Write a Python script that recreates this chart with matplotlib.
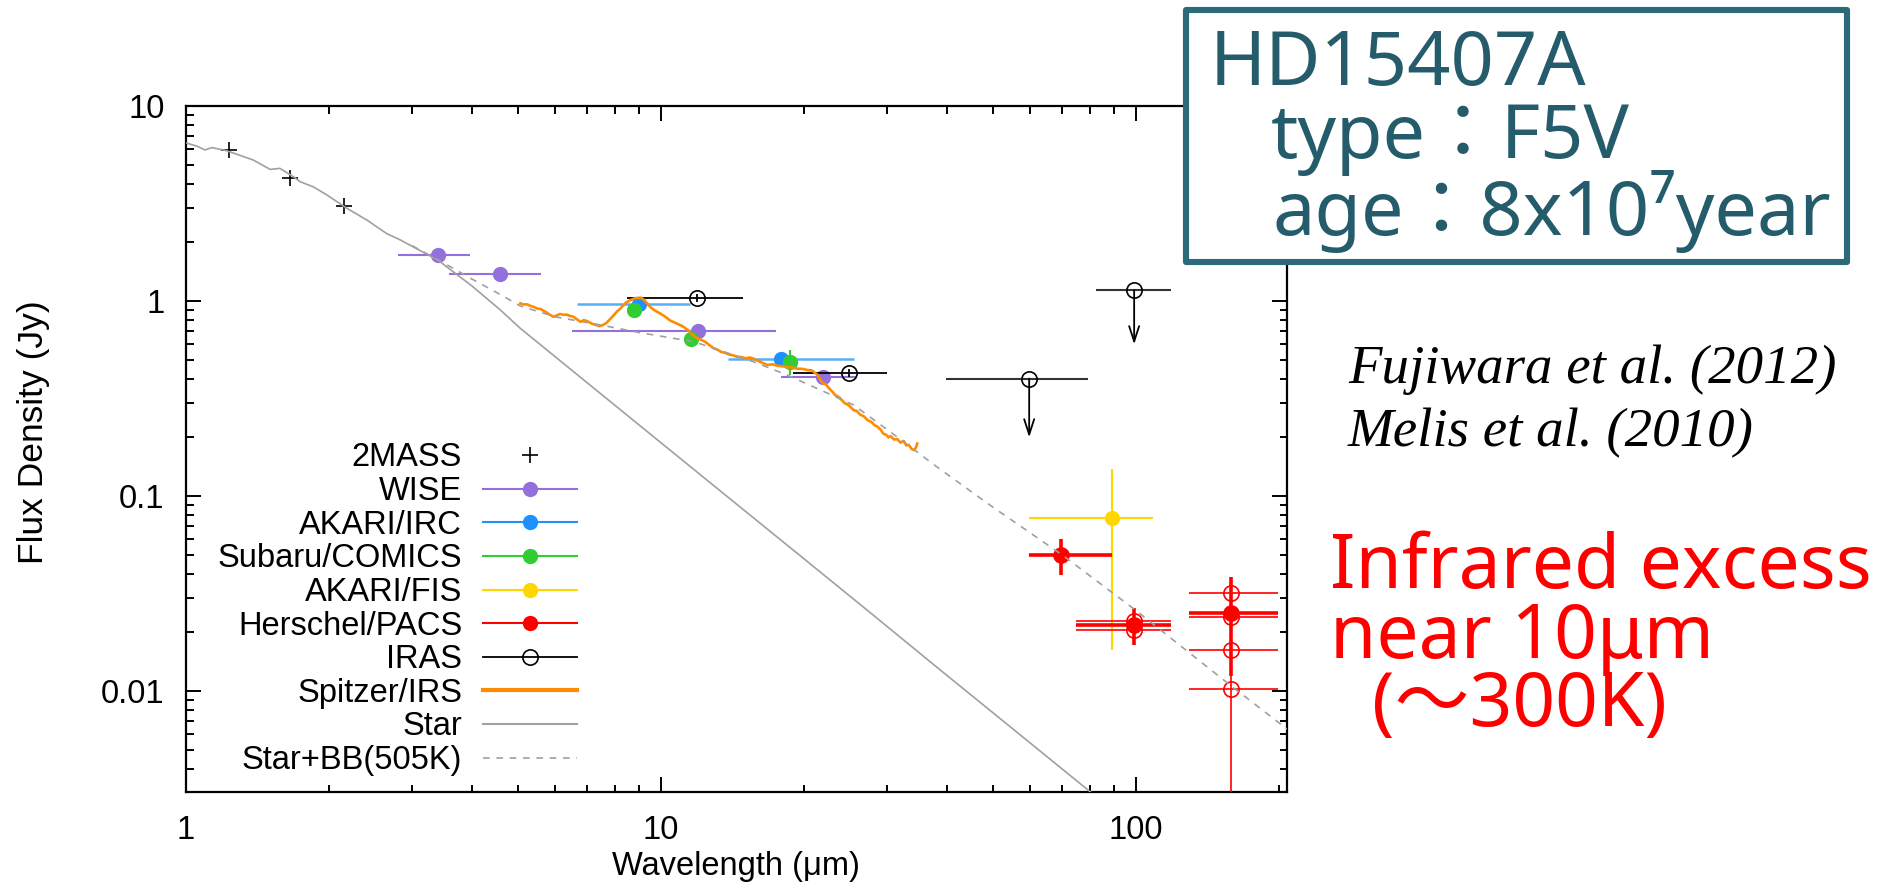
import numpy as np
import matplotlib
matplotlib.use('Agg')
import matplotlib.pyplot as plt
from matplotlib.lines import Line2D
from matplotlib.patches import Rectangle
from matplotlib.ticker import FixedLocator, FixedFormatter, LogLocator, NullFormatter

# ---------------- data ----------------
twomass_lam = [1.235, 1.662, 2.159]
twomass_flux = [5.95, 4.29, 3.07]

wise_lam = [3.4, 4.6, 12.0, 22.0]
wise_flux = [1.73, 1.37, 0.70, 0.407]
wise_lo = [2.80, 3.59, 6.5, 17.9]
wise_hi = [3.98, 5.59, 17.5, 25.9]

irc_lam = [9.0, 17.9]
irc_flux = [0.965, 0.503]
irc_lo = [6.67, 13.9]
irc_hi = [11.55, 25.5]

comics_lam = [8.78, 11.6, 18.7]
comics_flux = [0.90, 0.64, 0.488]
comics_yerr = [0.04, 0.04, 0.07]

fis_lam = [89.4]
fis_flux = [0.0773]
fis_lo = [59.7]
fis_hi = [109.0]
fis_ylo = [0.0163]
fis_yhi = [0.137]

pacs_lam = [69.7, 99.3, 158.9]
pacs_flux = [0.050, 0.0219, 0.0252]
pacs_lo = [59.7, 74.8, 129.7]
pacs_hi = [89.4, 119.0, 199.8]
pacs_ylo = [0.0395, 0.0172, 0.0119]
pacs_yhi = [0.0601, 0.0267, 0.0387]

pacs_open_lam = [99.3, 99.3, 158.9, 158.9, 158.9, 158.9]
pacs_open_flux = [0.0230, 0.0207, 0.0318, 0.0240, 0.0163, 0.0102]
pacs_open_lo = [74.8, 74.8, 129.7, 129.7, 129.7, 129.7]
pacs_open_hi = [119.0, 119.0, 199.8, 199.8, 199.8, 199.8]
pacs_open_ylo = [0.0215, 0.0195, 0.0280, 0.0200, 0.0130, 0.0005]
pacs_open_yhi = [0.0245, 0.0220, 0.0360, 0.0290, 0.0200, 0.0200]

iras_lam = [11.96, 24.9]
iras_flux = [1.04, 0.429]
iras_lo = [8.5, 19.0]
iras_hi = [14.9, 29.9]
iras_yerr = [0.05, 0.02]

iras_ul_lam = [59.7, 99.3]
iras_ul_flux = [0.40, 1.14]
iras_ul_lo = [39.8, 82.6]
iras_ul_hi = [79.5, 119.0]
iras_ul_tip = [0.20, 0.60]

irs_lam = [5.07, 5.15, 5.24, 5.32, 5.4, 5.5, 5.59, 5.68, 5.75, 5.85, 5.95, 6.05, 6.15,
           6.25, 6.35, 6.45, 6.55, 6.65, 6.78, 6.9, 7.0, 7.1, 7.2, 7.3, 7.43, 7.55, 7.7,
           7.8, 7.95, 8.1, 8.24, 8.45, 8.63, 8.85, 9.09, 9.2, 9.35, 9.5, 9.66, 9.8, 10.0,
           10.2, 10.5, 10.7, 11.0, 11.2, 11.5, 11.7, 11.95, 12.2, 12.45, 12.7, 12.95, 13.2,
           13.4, 13.7, 13.9, 14.2, 14.5, 14.8, 15.1, 15.4, 15.7, 15.95, 16.2, 16.5, 16.8,
           17.2, 17.6, 18.0, 18.5, 19.0, 19.4, 19.9, 20.4, 20.8, 21.0, 21.4, 21.7, 22.0,
           22.3, 22.6, 22.9, 23.3, 23.8, 24.4, 24.9, 25.5, 25.9, 26.3, 26.8, 27.3, 27.8,
           28.2, 28.6, 29.1, 29.5, 29.8, 30.2, 30.5, 31.0, 31.5, 32.0, 32.5, 32.9, 33.3,
           33.8, 34.2, 34.5, 34.7]
irs_flux = [0.973, 0.96, 0.962, 0.945, 0.935, 0.915, 0.91, 0.89, 0.875, 0.85, 0.83, 0.845,
            0.858, 0.85, 0.852, 0.838, 0.832, 0.81, 0.783, 0.798, 0.79, 0.775, 0.762, 0.755,
            0.744, 0.752, 0.774, 0.80, 0.84, 0.885, 0.917, 0.98, 1.01, 1.035, 1.04, 1.02,
            0.98, 0.935, 0.905, 0.885, 0.862, 0.835, 0.792, 0.777, 0.753, 0.735, 0.70, 0.668,
            0.643, 0.632, 0.615, 0.592, 0.572, 0.562, 0.549, 0.542, 0.533, 0.527, 0.518,
            0.516, 0.508, 0.514, 0.506, 0.497, 0.488, 0.479, 0.47, 0.474, 0.466, 0.464,
            0.458, 0.456, 0.45, 0.449, 0.443, 0.441, 0.434, 0.418, 0.395, 0.378, 0.374,
            0.358, 0.347, 0.33, 0.32, 0.30, 0.292, 0.276, 0.273, 0.262, 0.256, 0.245, 0.24,
            0.231, 0.227, 0.218, 0.208, 0.207, 0.2, 0.203, 0.195, 0.196, 0.188, 0.192, 0.182,
            0.183, 0.174, 0.172, 0.178, 0.186]

star_lam = [1.0, 1.056, 1.099, 1.136, 1.221, 1.39, 1.507, 1.58, 1.687, 1.743, 1.858,
            1.984, 2.186, 2.41, 2.65, 2.83, 3.4, 4.0, 4.6, 5.07, 7.0, 10.0, 14.0,
            20.0, 28.0, 38.9, 55.0, 80.5, 100.0]
star_flux = [6.48, 6.23, 5.95, 6.12, 5.9, 5.28, 4.73, 4.79, 4.34, 4.09, 3.85,
             3.5, 2.99, 2.6, 2.22, 2.06, 1.62, 1.2, 0.9, 0.724, 0.382, 0.1885, 0.0969,
             0.0479, 0.0246, 0.01277, 0.00644, 0.00303, 0.00196]

bb_lam = [3.0, 3.4, 4.0, 4.6, 5.07, 6.0, 7.5, 9.0, 11.78, 15.7, 18.5, 21.7, 25.5,
          30.1, 38.2, 50.0, 70.0, 100.0, 160.0, 210.0]
bb_flux = [1.92, 1.63, 1.3, 1.08, 0.943, 0.83, 0.753, 0.69, 0.618, 0.488, 0.417, 0.35,
           0.293, 0.218, 0.141, 0.088, 0.050, 0.026, 0.0105, 0.0063]

legend_labels = ['2MASS', 'WISE', 'AKARI/IRC', 'Subaru/COMICS', 'AKARI/FIS',
                 'Herschel/PACS', 'IRAS', 'Spitzer/IRS', 'Star', 'Star+BB(505K)']

# ---------------- style ----------------
plt.rcParams['font.family'] = ['Liberation Sans', 'DejaVu Sans']
C_WISE = '#9370DB'
C_IRC = '#1E90FF'
C_IRC_E = '#5AAEF8'
C_COM = '#32CD32'
C_FIS = '#FFD700'
C_PACS = '#FF0000'
C_IRS = '#FF8C00'
C_STAR = '#A0A0A0'
TEAL_T = '#245C6B'
TEAL_B = '#2B6A79'

W, H = 1879, 894
fig = plt.figure(figsize=(W / 100, H / 100), dpi=100)
fig.patch.set_facecolor('white')
ax = fig.add_axes([185.5 / W, 1 - 792.3 / H, 1101.2 / W, 686.3 / H])
ax.set_xscale('log')
ax.set_yscale('log')


def xe(lam, lo, hi):
    lam = np.asarray(lam)
    return [lam - np.asarray(lo), np.asarray(hi) - lam]


MS = 11
# 2MASS
ax.plot(twomass_lam, twomass_flux, ls='none', marker='+', ms=11, mew=1.2, color='k', zorder=3)
# WISE
ax.errorbar(wise_lam, wise_flux, xerr=xe(wise_lam, wise_lo, wise_hi), fmt='o', ms=MS,
            color=C_WISE, ecolor=C_WISE, elinewidth=1.5, capsize=0, mew=0, zorder=3)
# AKARI/IRC
ax.errorbar(irc_lam, irc_flux, xerr=xe(irc_lam, irc_lo, irc_hi), fmt='o', ms=MS,
            color=C_IRC, ecolor=C_IRC_E, elinewidth=1.8, capsize=0, mew=0, zorder=3.1)
# Subaru/COMICS
ax.errorbar(comics_lam, comics_flux, yerr=comics_yerr, fmt='o', ms=MS,
            color=C_COM, ecolor=C_COM, elinewidth=1.5, capsize=0, mew=0, zorder=3.2)
# AKARI/FIS
ax.errorbar(fis_lam, fis_flux, xerr=xe(fis_lam, fis_lo, fis_hi),
            yerr=[np.array(fis_flux) - np.array(fis_ylo), np.array(fis_yhi) - np.array(fis_flux)],
            fmt='o', ms=MS, color=C_FIS, ecolor=C_FIS, elinewidth=1.5, capsize=0, mew=0, zorder=3.3)
# Herschel/PACS filled
ax.errorbar(pacs_lam, pacs_flux, xerr=xe(pacs_lam, pacs_lo, pacs_hi),
            yerr=[np.array(pacs_flux) - np.array(pacs_ylo), np.array(pacs_yhi) - np.array(pacs_flux)],
            fmt='o', ms=MS + 1, color=C_PACS, ecolor=C_PACS, elinewidth=2.6, capsize=0, mew=0, zorder=3.4)
# Herschel/PACS open
ax.errorbar(pacs_open_lam, pacs_open_flux, xerr=xe(pacs_open_lam, pacs_open_lo, pacs_open_hi),
            yerr=[np.array(pacs_open_flux) - np.array(pacs_open_ylo),
                  np.array(pacs_open_yhi) - np.array(pacs_open_flux)],
            fmt='o', ms=MS, mfc='none', mec=C_PACS, mew=1.2, ecolor=C_PACS,
            elinewidth=1.2, capsize=0, zorder=3.4)
# IRAS detections
ax.errorbar(iras_lam, iras_flux, xerr=xe(iras_lam, iras_lo, iras_hi), yerr=iras_yerr,
            fmt='o', ms=MS, mfc='none', mec='k', mew=1.2, ecolor='k',
            elinewidth=1.3, capsize=0, zorder=3.5)
# IRAS upper limits
ax.errorbar(iras_ul_lam, iras_ul_flux, xerr=xe(iras_ul_lam, iras_ul_lo, iras_ul_hi),
            fmt='o', ms=MS, mfc='none', mec='k', mew=1.2, ecolor='#333333',
            elinewidth=1.5, capsize=0, zorder=3.5)
for lam, f, tip in zip(iras_ul_lam, iras_ul_flux, iras_ul_tip):
    ax.annotate('', xy=(lam, tip), xytext=(lam, f),
                arrowprops=dict(arrowstyle='->,head_length=0.55,head_width=0.18',
                                color='k', lw=1.3, shrinkA=0, shrinkB=0,
                                mutation_scale=20), zorder=3.5)
# Spitzer/IRS
ax.plot(irs_lam, irs_flux, color=C_IRS, lw=1.9, zorder=4)
# Star
ax.plot(star_lam, star_flux, color=C_STAR, lw=1.2, zorder=4.1)
# Star + BB
ax.plot(bb_lam, bb_flux, color=C_STAR, lw=1.2, ls=(0, (4, 4)), zorder=4.2)

ax.set_xlim(1, 208)
ax.set_ylim(0.00303, 10)

# ticks
ax.xaxis.set_major_locator(FixedLocator([1, 10, 100]))
ax.xaxis.set_major_formatter(FixedFormatter(['1', '10', '100']))
ax.xaxis.set_minor_locator(LogLocator(base=10, subs=np.arange(2, 10), numticks=20))
ax.xaxis.set_minor_formatter(NullFormatter())
ax.yaxis.set_major_locator(FixedLocator([0.01, 0.1, 1, 10]))
ax.yaxis.set_major_formatter(FixedFormatter(['0.01', '0.1', '1', '10']))
ax.yaxis.set_minor_locator(LogLocator(base=10, subs=np.arange(2, 10), numticks=20))
ax.yaxis.set_minor_formatter(NullFormatter())
ax.tick_params(which='both', direction='in', top=True, right=True, width=1.4, colors='k')
ax.tick_params(which='major', length=10.8, labelsize=23.5)
ax.tick_params(axis='x', which='major', pad=16)
ax.tick_params(axis='y', which='major', pad=15)
ax.tick_params(which='minor', length=5.4)
for s in ax.spines.values():
    s.set_linewidth(1.6)

ax.set_xlabel('Wavelength (μm)', fontsize=23.5)
ax.set_ylabel('Flux Density (Jy)', fontsize=25.5)
ax.xaxis.set_label_coords(0.5, -0.0855)
ax.yaxis.set_label_coords(-0.1226, 0.525)

# legend (gnuplot style: text right-aligned, sample on the right)
handles = [
    Line2D([], [], ls='none', marker='+', ms=11, mew=1.2, color='k'),
    Line2D([], [], color=C_WISE, lw=1.5, marker='o', ms=MS, mew=0),
    Line2D([], [], color=C_IRC, lw=1.5, marker='o', ms=MS, mew=0),
    Line2D([], [], color=C_COM, lw=1.5, marker='o', ms=MS, mew=0),
    Line2D([], [], color=C_FIS, lw=1.5, marker='o', ms=MS, mew=0),
    Line2D([], [], color=C_PACS, lw=1.5, marker='o', ms=MS, mew=0),
    Line2D([], [], color='k', lw=1.3, marker='o', ms=MS, mfc='none', mec='k', mew=1.2),
    Line2D([], [], color=C_IRS, lw=3.0),
    Line2D([], [], color=C_STAR, lw=1.5),
    Line2D([], [], color=C_STAR, lw=1.2, ls=(0, (4, 4))),
]
ax.legend(handles, legend_labels, loc='lower right',
          bbox_to_anchor=(576.7 / W, 1 - 776 / H), bbox_transform=fig.transFigure,
          markerfirst=False, frameon=False, fontsize=23.5, handlelength=2.87,
          handletextpad=0.64, labelspacing=0.08, borderpad=0, borderaxespad=0,
          numpoints=1)

# ---------------- annotations on the right ----------------
box = Rectangle((1186 / W, 1 - 262 / H), 661 / W, 252.4 / H, transform=fig.transFigure,
                facecolor='white', edgecolor=TEAL_B, linewidth=4.4, joinstyle='round',
                zorder=5)
fig.add_artist(box)
fam_jp = ['Noto Sans', 'Noto Sans CJK JP']
fig.text(1210 / W, 1 - 85 / H, 'HD15407A', fontsize=54.5, color=TEAL_T, family=fam_jp,
         ha='left', va='baseline', zorder=6)
fig.text(1271 / W, 1 - 158 / H, 'type：F5V', fontsize=54.5, color=TEAL_T, family=fam_jp,
         ha='left', va='baseline', zorder=6)
fig.text(1272 / W, 1 - 235 / H, 'age：8x10⁷year', fontsize=54.5, color=TEAL_T, family=fam_jp,
         ha='left', va='baseline', zorder=6)

fig.text(1348 / W, 1 - 383 / H, 'Fujiwara et al. (2012)', fontsize=39.5, style='italic',
         family=['Liberation Serif', 'DejaVu Serif'], color='k', ha='left', va='baseline')
fig.text(1348 / W, 1 - 446 / H, 'Melis et al. (2010)', fontsize=39.5, style='italic',
         family=['Liberation Serif', 'DejaVu Serif'], color='k', ha='left', va='baseline')

fig.text(1330 / W, 1 - 588 / H, 'Infrared excess', fontsize=54, color='#FF0000',
         family=fam_jp, ha='left', va='baseline')
fig.text(1330 / W, 1 - 658 / H, 'near 10μm', fontsize=54, color='#FF0000',
         family=fam_jp, ha='left', va='baseline')
fig.text(1372 / W, 1 - 726 / H, '(～300K)', fontsize=54, color='#FF0000',
         family=fam_jp, ha='left', va='baseline')

fig.savefig('out.png', dpi=100, facecolor='white')
